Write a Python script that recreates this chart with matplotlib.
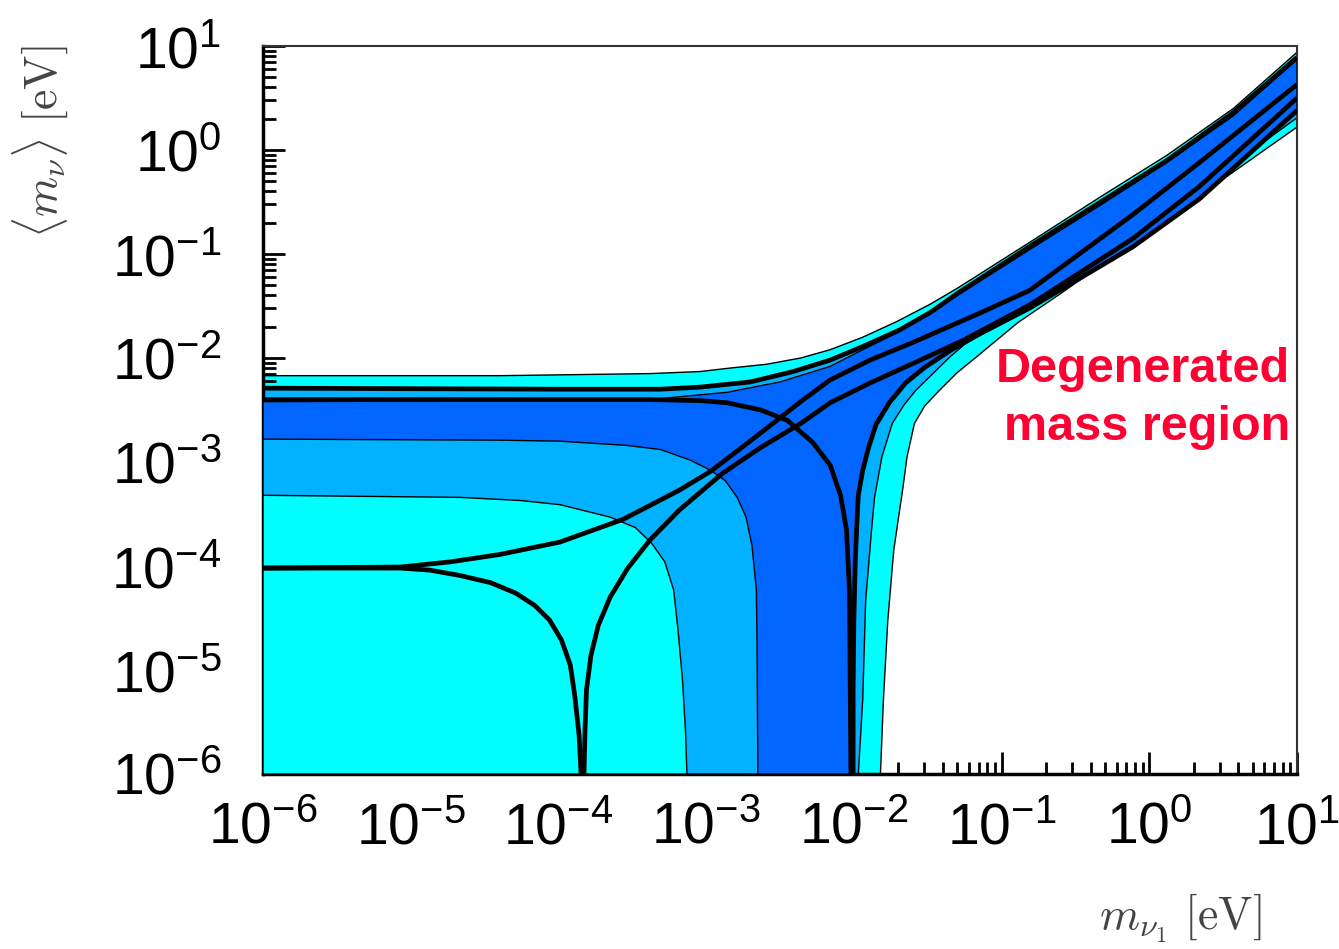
import numpy as np
import matplotlib
matplotlib.use("Agg")
import matplotlib.pyplot as plt
from matplotlib.ticker import LogLocator, FuncFormatter, NullFormatter

# === data (log10 values) ===
# outer band (cyan): upper edge, then right/lower edge (bottom -> top)
outer_top_lx = [-6, -4.40, -3.38, -3.04, -2.86, -2.59, -2.36, -2.16, -1.94, -1.71, -1.48, -1.30, -0.79, -0.33, 0.12, 0.57, 1.0]
outer_top_ly = [-2.17, -2.17, -2.15, -2.13, -2.10, -2.06, -2.00, -1.92, -1.80, -1.65, -1.48, -1.33, -0.87, -0.45, -0.05, 0.40, 0.94]
outer_edge_lx = [-1.82, -1.80, -1.77, -1.73, -1.69, -1.67, -1.64, -1.59, -1.52, -1.42, -1.30, -1.17, -0.89, -0.60, -0.11, 0.34, 1.0]
outer_edge_ly = [-6.0, -5.29, -4.52, -3.85, -3.46, -3.27, -2.95, -2.63, -2.46, -2.31, -2.14, -1.99, -1.66, -1.38, -0.89, -0.44, 0.22]

# middle band (light blue): upper edge = thick upper curve
mid_top_lx = [-6, -3.99, -3.31, -3.04, -2.70, -2.41, -2.16, -1.94, -1.69, -1.48, -1.30, -0.79, -0.33, 0.12, 0.57, 1.0]
mid_top_ly = [-2.29, -2.30, -2.30, -2.28, -2.23, -2.13, -2.02, -1.89, -1.73, -1.56, -1.38, -0.91, -0.50, -0.10, 0.36, 0.89]
mid_edge_lx = [-1.97, -1.94, -1.92, -1.88, -1.86, -1.81, -1.74, -1.66, -1.58, -1.35, -1.08, -0.74, -0.11, 0.34, 1.0]
mid_edge_ly = [-6.0, -5.29, -4.33, -3.65, -3.34, -2.95, -2.63, -2.45, -2.31, -1.99, -1.66, -1.35, -0.83, -0.37, 0.31]

# inner band (dark blue): upper edge, right edge (thick curve after the cusp)
dark_top_lx = [-6, -3.99, -3.31, -2.86, -2.50, -2.16, -1.94, -1.71, -1.48, -1.30, -0.79, -0.33, 0.12, 0.57, 1.0]
dark_top_ly = [-2.42, -2.41, -2.39, -2.33, -2.23, -2.08, -1.92, -1.76, -1.57, -1.40, -0.94, -0.53, -0.12, 0.33, 0.87]
dark_edge_lx = [-2.005, -2.005, -2.00, -1.99, -1.98, -1.97, -1.94, -1.90, -1.85, -1.76, -1.65, -1.52, -1.35, -1.15, -0.81, -0.11, 0.34, 1.0]
dark_edge_ly = [-6.0, -5.19, -4.52, -3.94, -3.61, -3.32, -3.08, -2.86, -2.64, -2.43, -2.24, -2.09, -1.93, -1.77, -1.52, -0.93, -0.47, 0.38]

# small-mass plateaus (light blue, cyan)
lb_inner_lx = [-6, -4.40, -3.99, -3.54, -3.31, -3.11, -2.97, -2.87, -2.79, -2.73, -2.69, -2.66, -2.655, -2.65]
lb_inner_ly = [-2.78, -2.79, -2.80, -2.84, -2.88, -2.98, -3.08, -3.18, -3.34, -3.53, -3.80, -4.23, -4.81, -6.0]
cy_inner_lx = [-6, -4.67, -4.26, -3.99, -3.65, -3.48, -3.37, -3.28, -3.22, -3.19, -3.16, -3.14, -3.13]
cy_inner_ly = [-3.32, -3.34, -3.37, -3.41, -3.53, -3.63, -3.78, -3.96, -4.23, -4.62, -5.10, -5.58, -6.0]

# thick black curves
curve_d_lx = [-6, -3.99, -3.38, -3.04, -2.86, -2.63, -2.45, -2.28, -2.16, -2.09, -2.05, -2.03, -2.025, -2.02]
curve_d_ly = [-2.40, -2.40, -2.40, -2.41, -2.43, -2.50, -2.60, -2.81, -3.03, -3.32, -3.65, -4.23, -5.10, -6.0]
curve_a_lx = [-6, -5.07, -4.87, -4.67, -4.46, -4.29, -4.16, -4.06, -3.98, -3.92, -3.89, -3.86, -3.847]
curve_a_ly = [-4.02, -4.02, -4.04, -4.09, -4.16, -4.26, -4.38, -4.52, -4.71, -4.95, -5.24, -5.63, -6.0]
curve_b_lx = [-3.827, -3.82, -3.81, -3.78, -3.73, -3.65, -3.53, -3.38, -3.18, -2.89, -2.63, -2.36, -2.16, -1.89, -1.55, -1.26, -0.81, -0.11, 0.34, 1.0]
curve_b_ly = [-6.0, -5.58, -5.19, -4.86, -4.57, -4.30, -4.02, -3.75, -3.46, -3.11, -2.86, -2.63, -2.43, -2.24, -2.02, -1.83, -1.49, -0.85, -0.35, 0.50]
curve_c_lx = [-6, -5.07, -4.73, -4.40, -3.99, -3.56, -3.18, -2.97, -2.63, -2.36, -2.16, -1.89, -1.60, -1.15, -0.81, -0.11, 0.34, 1.0]
curve_c_ly = [-4.02, -4.01, -3.96, -3.89, -3.77, -3.55, -3.27, -3.09, -2.72, -2.42, -2.21, -2.02, -1.85, -1.57, -1.35, -0.62, -0.12, 0.63]

CYAN = "#00FFFF"
LIGHT = "#00B2FF"
DARK = "#0066FF"


def ev(l):
    return 10.0 ** np.asarray(l, dtype=float)


plt.rcParams["font.family"] = ["Liberation Sans", "DejaVu Sans"]
plt.rcParams["axes.unicode_minus"] = False

fig = plt.figure(figsize=(13.39, 9.49), dpi=100)
ax = fig.add_axes([263 / 1339, 1 - 774 / 949, (1297 - 263) / 1339, (774 - 46) / 949])
ax.set_xscale("log")
ax.set_yscale("log")
ax.set_xlim(1e-6, 10)
ax.set_ylim(1e-6, 10)


def band(top_lx, top_ly, edge_lx, edge_ly, color, z):
    xs = np.concatenate([ev(top_lx), ev(edge_lx)[::-1], [1e-6]])
    ys = np.concatenate([ev(top_ly), ev(edge_ly)[::-1], [1e-6]])
    ax.fill(xs, ys, facecolor=color, edgecolor="black", lw=1.0, zorder=z)


band(outer_top_lx, outer_top_ly, outer_edge_lx, outer_edge_ly, CYAN, 1)
band(mid_top_lx, mid_top_ly, mid_edge_lx, mid_edge_ly, LIGHT, 2)
band(dark_top_lx, dark_top_ly, dark_edge_lx, dark_edge_ly, DARK, 3)

for lx, ly, color, z in [(lb_inner_lx, lb_inner_ly, LIGHT, 4), (cy_inner_lx, cy_inner_ly, CYAN, 5)]:
    xs = np.concatenate([ev(lx), [1e-6]])
    ys = np.concatenate([ev(ly), [1e-6]])
    ax.fill(xs, ys, facecolor=color, edgecolor="black", lw=1.0, zorder=z)

# thick curves
for lx, ly in [(mid_top_lx, mid_top_ly), (curve_d_lx, curve_d_ly), (dark_edge_lx, dark_edge_ly),
               (curve_a_lx, curve_a_ly), (curve_b_lx, curve_b_ly), (curve_c_lx, curve_c_ly)]:
    ax.plot(ev(lx), ev(ly), color="black", lw=3.4, zorder=6, solid_capstyle="butt",
            solid_joinstyle="round")

# axes styling
for side in ["left", "bottom"]:
    ax.spines[side].set_linewidth(2.5)
for side in ["top", "right"]:
    ax.spines[side].set_linewidth(1.5)
    ax.spines[side].set_color("#333333")
for a in [ax.xaxis, ax.yaxis]:
    a.set_major_locator(LogLocator(base=10, numticks=20))
    a.set_minor_locator(LogLocator(base=10, subs=np.arange(2, 10), numticks=20))
    a.set_minor_formatter(NullFormatter())
    a.set_major_formatter(FuncFormatter(lambda v, p: r"$\mathregular{10^{%d}}$" % round(np.log10(v))))
ax.tick_params(which="both", direction="in", top=False, right=False, width=2, colors="black")
ax.tick_params(which="major", length=16, labelsize=41)
ax.tick_params(which="minor", length=9)
ax.tick_params(axis="x", which="major", pad=20)
ax.tick_params(axis="y", which="major", pad=30)

# axis titles
fig.text(40 / 1339, 1 - 142 / 949, r"$\langle m_\nu \rangle\ [\mathrm{eV}]$", rotation=90,
         ha="center", va="center", fontsize=33, color="#444444", math_fontfamily="cm")
fig.text(1180 / 1339, 1 - 918 / 949, r"$m_{\nu_1}\ [\mathrm{eV}]$",
         ha="center", va="center", fontsize=33, color="#444444", math_fontfamily="cm")

# annotation
ax.text(1290 / 1339, 1 - 370 / 949, "Degenerated", transform=fig.transFigure, ha="right", va="center",
        fontsize=35, fontweight="bold", color="#FF0033", zorder=10)
ax.text(1290 / 1339, 1 - 428 / 949, "mass region", transform=fig.transFigure, ha="right", va="center",
        fontsize=35, fontweight="bold", color="#FF0033", zorder=10)

fig.savefig("out.png", dpi=100)
